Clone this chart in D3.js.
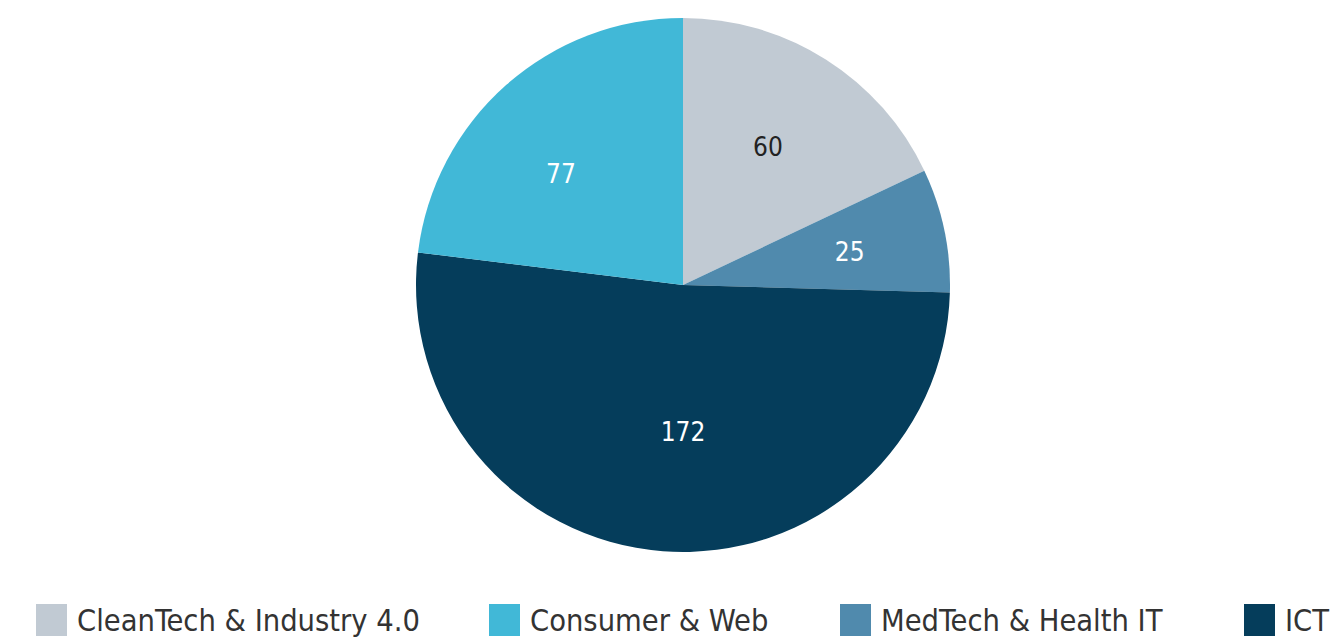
<!DOCTYPE html>
<html><head><meta charset="utf-8">
<script src="https://cdn.jsdelivr.net/npm/d3@7"></script>
<style>body{margin:0;background:#fff;} svg{display:block;}</style>
</head><body>
<svg id="c" width="1336" height="641"></svg>
<script>
const pieCategories = ["CleanTech & Industry 4.0", "MedTech & Health IT", "ICT", "Consumer & Web"];
const pieValues = [60, 25, 172, 77];
const legendCategories = ["CleanTech & Industry 4.0", "Consumer & Web", "MedTech & Health IT", "ICT"];
const colorMap = {"CleanTech & Industry 4.0":"#c1cad3","Consumer & Web":"#41b8d7","MedTech & Health IT":"#508aad","ICT":"#053d5b"};
const labelColor = {"CleanTech & Industry 4.0":"#222","Consumer & Web":"#fff","MedTech & Health IT":"#fff","ICT":"#fff"};
// label placement style (radius px, angle shift deg) per slice
const labelRadius = [162, 170, 147, 165];
const labelShift = [-0.7, 0.6, -4.3, -6.2];

const svg = d3.select("#c");
const cx = 683, cy = 285, R = 267;
const data = pieCategories.map((c,i)=>({cat:c, val:pieValues[i]}));
const pie = d3.pie().value(d=>d.val).sort(null);
const arc = d3.arc().innerRadius(0).outerRadius(R);
const g = svg.append("g").attr("transform",`translate(${cx},${cy})`);
const arcs = pie(data);
g.selectAll("path").data(arcs).join("path").attr("d",arc).attr("fill",d=>colorMap[d.data.cat]);
const font = "'Liberation Sans Narrow','DejaVu Sans Condensed',sans-serif";
g.selectAll("text").data(arcs).join("text")
  .attr("transform",(d,i)=>{const a=(d.startAngle+d.endAngle)/2 + labelShift[i]*Math.PI/180; const r=labelRadius[i]; return `translate(${r*Math.sin(a)},${-r*Math.cos(a)})`;})
  .attr("text-anchor","middle").attr("dy","0.36em")
  .attr("font-family",font).attr("font-size",26)
  .attr("fill",d=>labelColor[d.data.cat]).text(d=>d.data.val);

const legendX = [36, 489, 840, 1244];
const lg = svg.append("g");
legendCategories.forEach((c,i)=>{
  lg.append("rect").attr("x",legendX[i]).attr("y",604).attr("width",31).attr("height",32).attr("fill",colorMap[c]);
  lg.append("text").attr("x",legendX[i]+41).attr("y",631).attr("font-family",font).attr("font-size",30.5).attr("fill","#333").text(c);
});
</script>
</body></html>
